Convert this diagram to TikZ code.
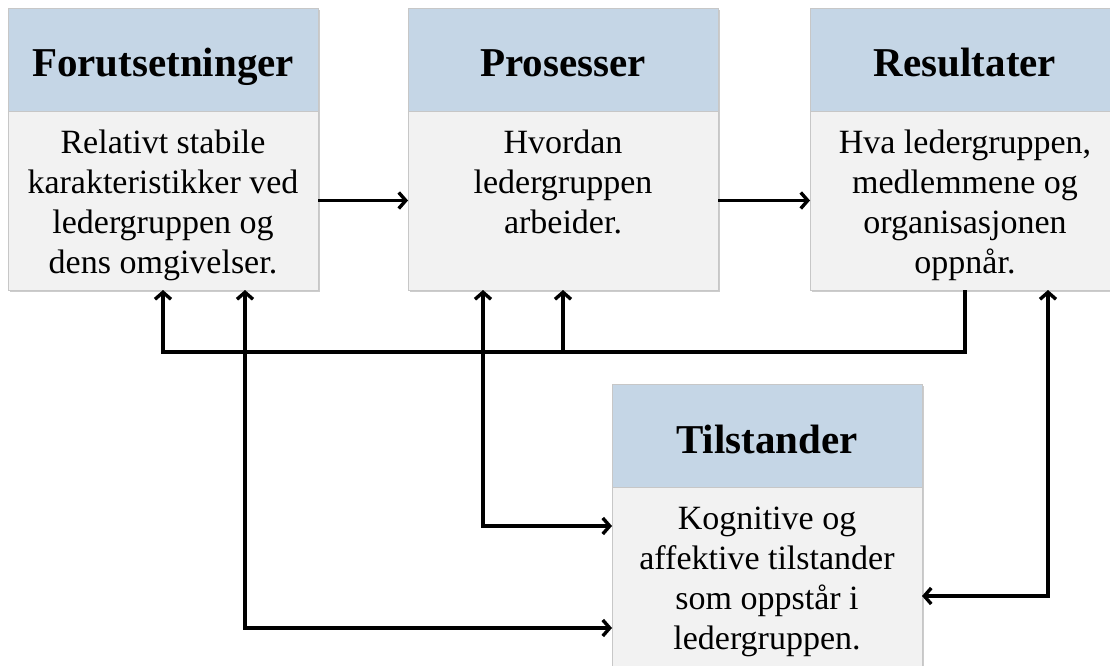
\documentclass[tikz,border=0pt]{standalone}
\usepackage{fontspec}
\setmainfont{Liberation Serif}
\usetikzlibrary{arrows.meta,positioning,shadows}
\definecolor{headblue}{RGB}{197,214,230}
\definecolor{bodygray}{RGB}{242,242,242}
\newcommand{\boxtext}[2]{\parbox[c][#1][t]{300pt}{\centering\rule{0pt}{42pt}#2}}

\begin{document}
\begin{tikzpicture}[x=1pt, y=-1pt, >={Straight Barb[length=7pt,width=16pt]}, line width=3.4pt]
    \tikzstyle{panel}=[rectangle, draw=black!22, line width=0.6pt, minimum width=310pt, inner sep=0pt, outer sep=0pt, drop shadow={shadow xshift=1.5pt, shadow yshift=-1.8pt, opacity=0.4}]
    \tikzstyle{head}=[panel, fill=headblue, minimum height=103pt, text height=35pt, text depth=0pt, font=\fontsize{41}{48}\selectfont\bfseries]
    \tikzstyle{body}=[panel, fill=bodygray, font=\fontsize{34}{40}\selectfont]
    \useasboundingbox (0,0) rectangle (1110,666);

    \node[head] (F) at (163,59.5)   {Forutsetninger};
    \node[body] (Fb)[below=0pt of F] {\boxtext{179pt}{Relativt stabile\\karakteristikker ved\\ledergruppen og\\dens omgivelser.}};
    \node[head] (P) at (563,59.5)   {Prosesser};
    \node[body] (Pb)[below=0pt of P] {\boxtext{179pt}{Hvordan\\ledergruppen\\arbeider.}};
    \node[head] (R) at (965,59.5)   {Resultater};
    \node[body] (Rb)[below=0pt of R] {\boxtext{179pt}{Hva ledergruppen,\\medlemmene og\\organisasjonen\\oppnår.}};
    \node[head] (T) at (767,435.5)  {Tilstander};
    \node[body] (Tb)[below=0pt of T] {\boxtext{220pt}{Kognitive og\\affektive tilstander\\som oppstår i\\ledergruppen.}};

    \coordinate (loop) at (0,352);
    \draw[->] (Fb) -- (Pb);
    \draw[->] (Pb) -- (Rb);
    \draw[->] (Rb.south) |- (loop -| Fb.south) -- (Fb.south);
    \draw[->] (loop -| Pb.south) -- (Pb.south);
    \draw[<->] ([xshift=75pt]Pb.south west) |- ([yshift=-39pt]Tb.north west);
    \draw[<->] ([xshift=237pt]Fb.south west) |- ([yshift=-141pt]Tb.north west);
    \draw[<->] ([xshift=238pt]Rb.south west) |- ([yshift=-109pt]Tb.north east);
\end{tikzpicture}
\end{document}
